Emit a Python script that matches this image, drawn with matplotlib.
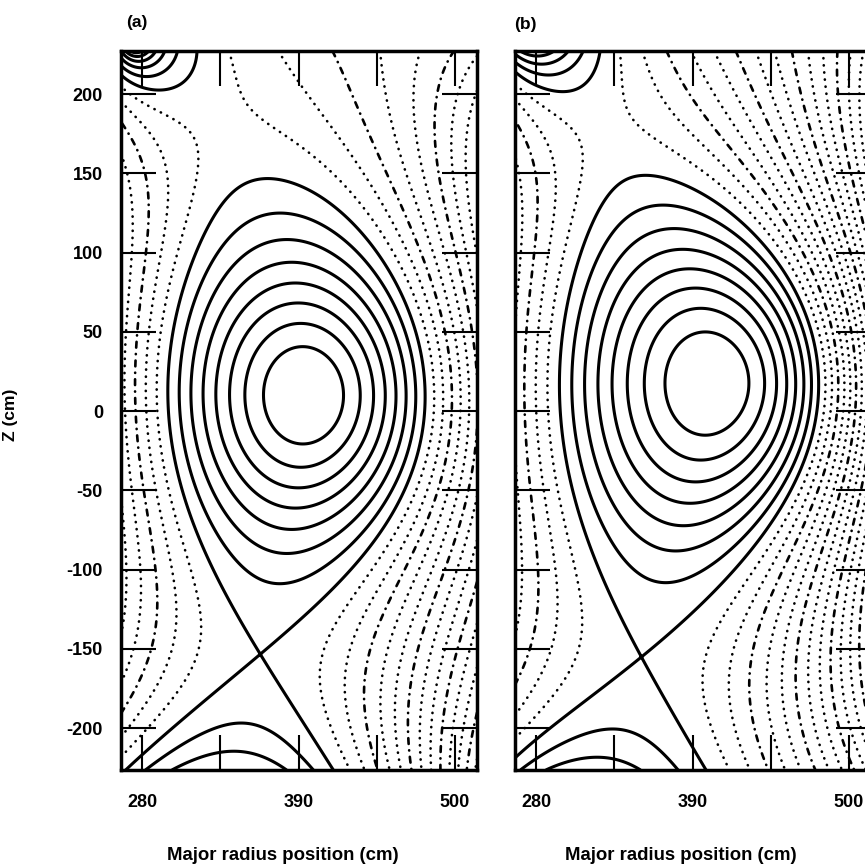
import numpy as np
import matplotlib
matplotlib.use("Agg")
import matplotlib.pyplot as plt

plt.rcParams['font.family'] = ['Liberation Sans', 'DejaVu Sans']
plt.rcParams['font.weight'] = 'bold'
plt.rcParams['axes.unicode_minus'] = False

# ---------------- data (read / estimated from the reference) ----------------
panel_labels = ['(a)', '(b)']
x_ticks = [280, 335, 390, 445, 500]
x_tick_labels = ['280', '', '390', '', '500']
y_ticks = [-200, -150, -100, -50, 0, 50, 100, 150, 200]
R_range = [265.2, 515.5]          # cm, major radius shown
Z_range = [-226.5, 227.3]         # cm, height shown

# current sources: plasma, divertor coil, upper-left coil, outer upper coil, outer lower coil
src_R_a = [403.0, 280.0, 275.0, 600.0, 600.0]
src_Z_a = [10.0, -300.0, 235.0, 330.0, -330.0]
src_I_a = [18.179, 1.3684, 4.325, 24.555, -35.039]
src_core_a = [90.0, 1.0, 1.0, 0.0, 0.0]
src_elong_a = [0.90, 1.0, 1.0, 1.0, 1.0]
ext_a = [-0.0054074, 0.14381, 0.021463, 0.030954]   # dipole R, dipole Z, quadrupole, skew quadrupole

src_R_b = [435.0, 280.0, 275.0, 600.0, 600.0]
src_Z_b = [20.0, -300.0, 250.0, 330.0, -330.0]
src_I_b = [28.238, 5.7787, 6.9263, 18.854, 9.5718]
src_core_b = [110.0, 1.0, 1.0, 0.0, 0.0]
src_elong_b = [0.90, 1.0, 1.0, 1.0, 1.0]
ext_b = [0.085512, 0.042213, 0.020954, 0.005096]

axis_guess = [(394.0, 9.0), (404.0, 10.0)]     # magnetic axis
xpoint_guess = [(362.0, -156.0), (352.0, -161.0)]
n_closed_levels = 8                            # flux surfaces from axis to separatrix
# -----------------------------------------------------------------------------

def make_field(sR, sZ, sI, score, selong, ext):
    def f(R, Z):
        out = (ext[0]*(R-390) + ext[1]*Z + ext[2]*((R-390)**2 - Z**2)/100
               + ext[3]*(R-390)*Z/100)
        for Rk, Zk, Ik, ck, kk in zip(sR, sZ, sI, score, selong):
            out = out + Ik*0.5*np.log((R-Rk)**2 + ((Z-Zk)/kk)**2 + ck**2)
        return out
    return f

def critical_point(f, R, Z):
    h = 0.5
    for _ in range(60):
        fR = (f(R+h, Z)-f(R-h, Z))/(2*h); fZ = (f(R, Z+h)-f(R, Z-h))/(2*h)
        fRR = (f(R+h, Z)-2*f(R, Z)+f(R-h, Z))/h**2
        fZZ = (f(R, Z+h)-2*f(R, Z)+f(R, Z-h))/h**2
        fRZ = (f(R+h, Z+h)-f(R+h, Z-h)-f(R-h, Z+h)+f(R-h, Z-h))/(4*h*h)
        st = np.linalg.solve([[fRR, fRZ], [fRZ, fZZ]], [fR, fZ])
        nrm = np.hypot(*st)
        if nrm > 5:
            st = st*5/nrm
        R -= st[0]; Z -= st[1]
    return R, Z

Rg = np.linspace(*R_range, 440)
Zg = np.linspace(*Z_range, 800)
RR, ZZ = np.meshgrid(Rg, Zg)

fig = plt.figure(figsize=(8.65, 8.66), dpi=100)
W = 356/865; H = 719/866; B0 = (866-770)/866
axes = [fig.add_axes([121/865, B0, W, H]), fig.add_axes([515/865, B0, W, H])]

fields = [make_field(src_R_a, src_Z_a, src_I_a, src_core_a, src_elong_a, ext_a),
          make_field(src_R_b, src_Z_b, src_I_b, src_core_b, src_elong_b, ext_b)]

dot_styles = [(0, (0.1, 2.6)), (0, (0.1, 2.6)), (0, (2.2, 2.4, 0.1, 2.4))]

for i, ax in enumerate(axes):
    f = fields[i]
    psi = f(RR, ZZ)
    Ra, Za = critical_point(f, *axis_guess[i])
    Rx, Zx = critical_point(f, *xpoint_guess[i])
    p_ax = f(Ra, Za); p_x = f(Rx, Zx)
    d = (p_x - p_ax)/n_closed_levels
    kmin = int(np.floor((psi.min()-p_ax)/d)); kmax = int(np.ceil((psi.max()-p_ax)/d))
    solid = [p_ax + k*d for k in range(max(kmin, 1), n_closed_levels+1)]
    dotted = [p_ax + k*d for k in range(n_closed_levels+1, kmax+1)]
    ax.contour(RR, ZZ, psi, levels=solid, colors='k', linewidths=2.2, linestyles='solid')
    cs = ax.contour(RR, ZZ, psi, levels=dotted, colors='k', linewidths=1.9, linestyles=dot_styles)
    cs.set_capstyle('round')

    ax.set_xlim(*R_range); ax.set_ylim(*Z_range)
    ax.set_xticks(x_ticks)
    ax.set_xticklabels(x_tick_labels)
    ax.set_yticks(y_ticks)
    ax.tick_params(direction='in', length=25, width=1.5, top=True, right=True, labelsize=13)
    ax.tick_params(axis='x', pad=17)
    ax.tick_params(axis='y', pad=13)
    if i == 1:
        ax.set_yticklabels([])
    for sp in ax.spines.values():
        sp.set_linewidth(2.5)

fig.text(137/865, 1-22/866, panel_labels[0], ha='center', va='center', fontsize=12.5)
fig.text(525/865, 1-24/866, panel_labels[1], ha='center', va='center', fontsize=12.5)
fig.text(283/865, 1-856/866, 'Major radius position (cm)', ha='center', va='center', fontsize=13.4)
fig.text(681/865, 1-856/866, 'Major radius position (cm)', ha='center', va='center', fontsize=13.4)
fig.text(10/865, 1-415/866, 'Z (cm)', ha='center', va='center', rotation=90, fontsize=12.5)
fig.savefig('out.png', dpi=100)
